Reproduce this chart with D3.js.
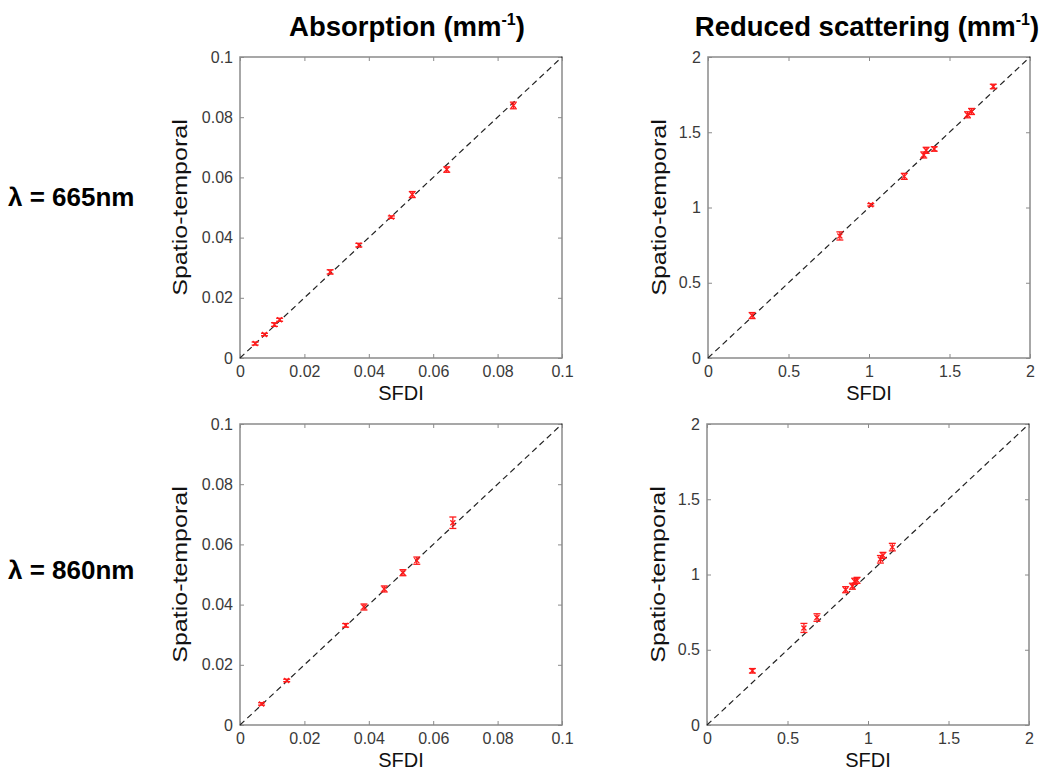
<!DOCTYPE html>
<html><head><meta charset="utf-8">
<script src="https://cdn.jsdelivr.net/npm/d3@7"></script>
<style>body{margin:0;background:#fff} text{font-family:Arial,"Liberation Sans",sans-serif}</style>
</head><body><svg id="c" width="1042" height="771"></svg>
<script>
// ---- data ----
const absTicks = [0, 0.02, 0.04, 0.06, 0.08, 0.1];
const scatTicks = [0, 0.5, 1, 1.5, 2];
const colTitles = ["Absorption (mm", "Reduced scattering (mm"];
const rowLabels = ["λ = 665nm", "λ = 860nm"];

const abs665Sfdi = [0.0047, 0.0076, 0.0107, 0.0123, 0.0280, 0.0369, 0.0470, 0.0535, 0.0642, 0.0849];
const abs665St   = [0.0048, 0.0078, 0.0111, 0.0127, 0.0286, 0.0375, 0.0468, 0.0543, 0.0626, 0.0839];
const abs665Err  = [0.0005, 0.0004, 0.0006, 0.0005, 0.0007, 0.0006, 0.0004, 0.0010, 0.0009, 0.0011];

const sca665Sfdi = [0.274, 0.819, 1.011, 1.219, 1.340, 1.355, 1.405, 1.612, 1.637, 1.772];
const sca665St   = [0.282, 0.811, 1.018, 1.207, 1.349, 1.380, 1.389, 1.616, 1.638, 1.804];
const sca665Err  = [0.020, 0.027, 0.008, 0.020, 0.020, 0.020, 0.015, 0.020, 0.020, 0.015];

const abs860Sfdi = [0.0067, 0.0145, 0.0328, 0.0385, 0.0448, 0.0506, 0.0549, 0.0661];
const abs860St   = [0.0070, 0.0148, 0.0331, 0.0392, 0.0452, 0.0506, 0.0546, 0.0672];
const abs860Err  = [0.0004, 0.0004, 0.0006, 0.0010, 0.0010, 0.0010, 0.0012, 0.0019];

const sca860Sfdi = [0.282, 0.602, 0.683, 0.861, 0.903, 0.917, 0.932, 1.077, 1.093, 1.151];
const sca860St   = [0.360, 0.645, 0.714, 0.899, 0.922, 0.955, 0.961, 1.101, 1.127, 1.182];
const sca860Err  = [0.015, 0.030, 0.025, 0.020, 0.020, 0.020, 0.020, 0.025, 0.020, 0.025];

// ---- layout ----
const svg = d3.select('#c');
const W = 322, H = 301;
const panels = [
  {x: abs665Sfdi, y: abs665St, e: abs665Err, ticks: absTicks, max: 0.1, left: 240, top: 57, ylabX: -53},
  {x: sca665Sfdi, y: sca665St, e: sca665Err, ticks: scatTicks, max: 2, left: 708, top: 57, ylabX: -42},
  {x: abs860Sfdi, y: abs860St, e: abs860Err, ticks: absTicks, max: 0.1, left: 240, top: 424, ylabX: -53},
  {x: sca860Sfdi, y: sca860St, e: sca860Err, ticks: scatTicks, max: 2, left: 707, top: 424, ylabX: -42}
];
const axisCol = '#8a8a8a', textCol = '#3a3a3a', red = '#ff1a1a';
const fmt = d => String(+d.toFixed(3));

panels.forEach(p => {
  const g = svg.append('g').attr('transform', `translate(${p.left},${p.top})`);
  const xs = d3.scaleLinear().domain([0, p.max]).range([0, W]);
  const ys = d3.scaleLinear().domain([0, p.max]).range([H, 0]);

  const styleAxis = sel => {
    sel.select('.domain').remove();
    sel.selectAll('line').attr('stroke', axisCol).attr('stroke-width', 1);
    sel.selectAll('text').attr('fill', textCol).style('font-size', '16px')
       .style('font-family', 'Arial, "Liberation Sans", sans-serif');
  };
  g.append('g').attr('transform', `translate(0,${H})`)
    .call(d3.axisBottom(xs).tickValues(p.ticks).tickSizeInner(-4).tickSizeOuter(0).tickPadding(8).tickFormat(fmt))
    .call(styleAxis);
  g.append('g')
    .call(d3.axisTop(xs).tickValues(p.ticks).tickSizeInner(-4).tickSizeOuter(0).tickFormat(''))
    .call(styleAxis);
  g.append('g')
    .call(d3.axisLeft(ys).tickValues(p.ticks).tickSizeInner(-4).tickSizeOuter(0).tickPadding(7).tickFormat(fmt))
    .call(styleAxis);
  g.append('g').attr('transform', `translate(${W},0)`)
    .call(d3.axisRight(ys).tickValues(p.ticks).tickSizeInner(-4).tickSizeOuter(0).tickFormat(''))
    .call(styleAxis);

  g.append('rect').attr('x', 0).attr('y', 0).attr('width', W).attr('height', H)
    .attr('fill', 'none').attr('stroke', axisCol).attr('stroke-width', 1.5);

  // identity line
  g.append('line')
    .attr('x1', xs(0)).attr('y1', ys(0)).attr('x2', xs(p.max)).attr('y2', ys(p.max))
    .attr('stroke', '#222').attr('stroke-width', 1.2).attr('stroke-dasharray', '6,4');

  // error bars
  const idx = d3.range(p.x.length);
  const eb = g.selectAll('.eb').data(idx).join('g').attr('class', 'eb')
    .attr('stroke', red).attr('stroke-width', 1.3).attr('fill', 'none');
  eb.append('line').attr('x1', i => xs(p.x[i])).attr('x2', i => xs(p.x[i]))
    .attr('y1', i => ys(p.y[i] - p.e[i])).attr('y2', i => ys(p.y[i] + p.e[i]));
  eb.append('line').attr('x1', i => xs(p.x[i]) - 3.5).attr('x2', i => xs(p.x[i]) + 3.5)
    .attr('y1', i => ys(p.y[i] - p.e[i])).attr('y2', i => ys(p.y[i] - p.e[i]));
  eb.append('line').attr('x1', i => xs(p.x[i]) - 3.5).attr('x2', i => xs(p.x[i]) + 3.5)
    .attr('y1', i => ys(p.y[i] + p.e[i])).attr('y2', i => ys(p.y[i] + p.e[i]));
  // x markers
  eb.append('path').attr('d', i => {
    const cx = xs(p.x[i]), cy = ys(p.y[i]), s = 2.5;
    return `M${cx - s},${cy - s}L${cx + s},${cy + s}M${cx - s},${cy + s}L${cx + s},${cy - s}`;
  });

  // axis labels
  g.append('text').attr('x', W / 2).attr('y', H + 42)
    .attr('text-anchor', 'middle').style('font-size', '20px').attr('fill', '#111').text('SFDI');
  g.append('text').attr('transform', `translate(${p.ylabX},${H / 2}) rotate(-90) scale(1.25,1)`)
    .attr('text-anchor', 'middle').style('font-size', '20px').attr('fill', '#111').text('Spatio-temporal');
});

// column titles
const titleX = [407, 867];
colTitles.forEach((t, i) => {
  const tx = svg.append('text').attr('x', titleX[i]).attr('y', 36).attr('text-anchor', 'middle')
    .style('font-size', '27.5px').style('font-weight', 'bold').attr('fill', '#000');
  tx.append('tspan').text(t);
  tx.append('tspan').attr('dy', -11).style('font-size', '16px').text('-1');
  tx.append('tspan').attr('dy', 11).text(')');
});

// row labels
const rowY = [206, 579];
rowLabels.forEach((t, i) => {
  svg.append('text').attr('x', 8).attr('y', rowY[i]).style('font-size', '26px')
    .style('font-weight', 'bold').attr('fill', '#000').text(t);
});
</script></body></html>
